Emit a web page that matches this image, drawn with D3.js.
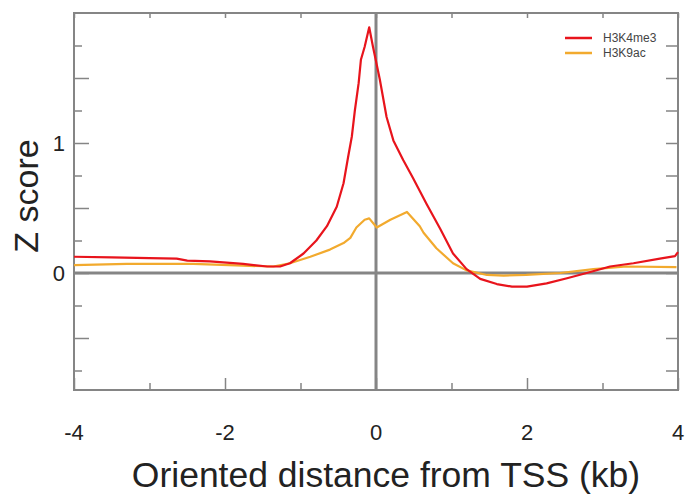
<!DOCTYPE html>
<html>
<head>
<meta charset="utf-8">
<script src="https://cdn.jsdelivr.net/npm/d3@7"></script>
<style>
  body { margin: 0; background: #fff; }
  svg { display: block; font-family: "Liberation Sans", Arial, sans-serif; }
</style>
</head>
<body>
<div id="chart"></div>
<script>
// values
const seriesNames = ["H3K4me3", "H3K9ac"];
const seriesColors = ["#e8141c", "#f2aa2e"];

const h3k4me3X = [-4.0, -3.5, -3.0, -2.64, -2.5, -2.2, -1.76, -1.44, -1.27, -1.14, -0.96, -0.79, -0.65, -0.52, -0.43, -0.37, -0.32, -0.28, -0.23, -0.2, -0.15, -0.09, -0.04, 0.05, 0.14, 0.23, 0.36, 0.49, 0.67, 0.85, 1.02, 1.2, 1.38, 1.6, 1.8, 2.0, 2.26, 2.53, 2.79, 3.1, 3.41, 3.76, 3.96, 4.0];
const h3k4me3Y = [0.125, 0.12, 0.115, 0.11, 0.095, 0.09, 0.07, 0.05, 0.05, 0.075, 0.15, 0.25, 0.36, 0.51, 0.69, 0.89, 1.05, 1.25, 1.46, 1.64, 1.74, 1.89, 1.74, 1.49, 1.2, 1.02, 0.87, 0.73, 0.53, 0.34, 0.15, 0.03, -0.045, -0.085, -0.105, -0.105, -0.08, -0.04, 0.0, 0.05, 0.075, 0.11, 0.13, 0.16];

const h3k9acX = [-4.0, -3.3, -2.42, -1.76, -1.36, -1.14, -0.87, -0.61, -0.43, -0.34, -0.26, -0.15, -0.09, 0.01, 0.19, 0.41, 0.58, 0.63, 0.8, 1.02, 1.2, 1.47, 1.69, 1.99, 2.44, 2.88, 3.32, 3.98];
const h3k9acY = [0.06, 0.07, 0.07, 0.056, 0.05, 0.075, 0.125, 0.18, 0.23, 0.27, 0.35, 0.41, 0.42, 0.35, 0.41, 0.47, 0.36, 0.31, 0.19, 0.075, 0.02, -0.015, -0.02, -0.015, 0.0, 0.03, 0.05, 0.045];

const xTicks = [-4, -3, -2, -1, 0, 1, 2, 3, 4];
const xTickLabels = [-4, -2, 0, 2, 4];
const yTicks = [-0.75, -0.5, -0.25, 0, 0.25, 0.5, 0.75, 1, 1.25, 1.5, 1.75];
const yTickLabels = [0, 1];

const width = 687, height = 495;
const margin = {top: 13, right: 9, bottom: 105, left: 74};
const gray = "#858585";

const svg = d3.select("#chart").append("svg").attr("width", width).attr("height", height);

const x = d3.scaleLinear().domain([-4, 4]).range([margin.left, width - margin.right]);
const y = d3.scaleLinear().domain([-0.9, 2.0]).range([height - margin.bottom, margin.top]);

const series = [
  {name: seriesNames[0], color: seriesColors[0], pts: h3k4me3X.map((v, i) => [v, h3k4me3Y[i]])},
  {name: seriesNames[1], color: seriesColors[1], pts: h3k9acX.map((v, i) => [v, h3k9acY[i]])}
];

// inward ticks on all four sides
const isMajorX = d => d % 2 === 0;
const isMajorY = d => Math.abs(d * 2 - Math.round(d * 2)) < 1e-9;

svg.append("g").attr("transform", `translate(0,${height - margin.bottom})`)
  .call(d3.axisTop(x).tickValues(xTicks).tickFormat("").tickSizeOuter(0))
  .call(g => g.select(".domain").remove())
  .call(g => g.selectAll(".tick line").attr("y2", d => isMajorX(d) ? -12 : -7));

svg.append("g").attr("transform", `translate(0,${margin.top})`)
  .call(d3.axisBottom(x).tickValues(xTicks).tickFormat("").tickSize(5).tickSizeOuter(0))
  .call(g => g.select(".domain").remove());

svg.append("g").attr("transform", `translate(${margin.left},0)`)
  .call(d3.axisRight(y).tickValues(yTicks).tickFormat("").tickSizeOuter(0))
  .call(g => g.select(".domain").remove())
  .call(g => g.selectAll(".tick line").attr("x2", d => isMajorY(d) ? 15 : 8));

svg.append("g").attr("transform", `translate(${width - margin.right},0)`)
  .call(d3.axisLeft(y).tickValues(yTicks).tickFormat("").tickSize(12).tickSizeOuter(0))
  .call(g => g.select(".domain").remove());

svg.selectAll(".tick line").attr("stroke", gray).attr("stroke-width", 1.5);

// frame
svg.append("rect")
  .attr("x", margin.left).attr("y", margin.top)
  .attr("width", width - margin.right - margin.left)
  .attr("height", height - margin.bottom - margin.top)
  .attr("fill", "none").attr("stroke", gray).attr("stroke-width", 2);

// zero lines
svg.append("line")
  .attr("x1", x(-4)).attr("x2", x(4)).attr("y1", y(0)).attr("y2", y(0))
  .attr("stroke", gray).attr("stroke-width", 3);
svg.append("line")
  .attr("x1", x(0)).attr("x2", x(0)).attr("y1", y(-0.9)).attr("y2", y(2.0))
  .attr("stroke", gray).attr("stroke-width", 3);

// curves
const line = d3.line().x(d => x(d[0])).y(d => y(d[1]));
series.slice().reverse().forEach(s => {
  svg.append("path").datum(s.pts)
    .attr("fill", "none").attr("stroke", s.color).attr("stroke-width", 2.2)
    .attr("stroke-linejoin", "round").attr("d", line);
});

// tick labels
svg.selectAll(".xlab").data(xTickLabels).enter().append("text")
  .attr("x", d => x(d)).attr("y", 440)
  .attr("text-anchor", "middle").attr("font-size", 22).attr("fill", "#222")
  .text(d => d);

svg.selectAll(".ylab").data(yTickLabels).enter().append("text")
  .attr("x", 65).attr("y", d => y(d)).attr("dy", "0.36em")
  .attr("text-anchor", "end").attr("font-size", 22).attr("fill", "#222")
  .text(d => d);

// axis titles
svg.append("text")
  .attr("x", 386).attr("y", 487)
  .attr("text-anchor", "middle").attr("font-size", 35.5).attr("fill", "#222")
  .text("Oriented distance from TSS (kb)");

svg.append("text")
  .attr("transform", "translate(38,196) rotate(-90)")
  .attr("text-anchor", "middle").attr("font-size", 34).attr("fill", "#222")
  .text("Z score");

// legend
const legend = svg.append("g").attr("transform", "translate(565,38)");
series.forEach((s, i) => {
  legend.append("line")
    .attr("x1", 0).attr("x2", 27).attr("y1", i * 15).attr("y2", i * 15)
    .attr("stroke", s.color).attr("stroke-width", 2.5);
  legend.append("text")
    .attr("x", 38).attr("y", i * 15 + 4)
    .attr("font-size", 12).attr("fill", "#444")
    .text(s.name);
});
</script>
</body>
</html>
